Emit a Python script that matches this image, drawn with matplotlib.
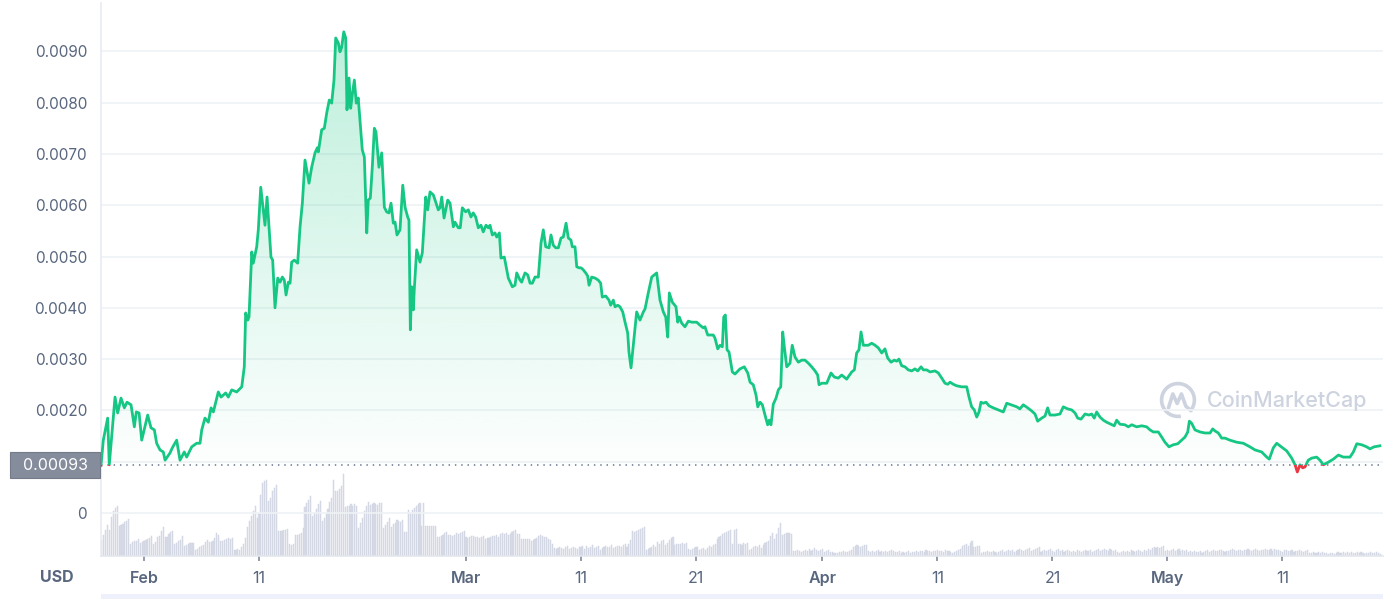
import datetime
import numpy as np
import matplotlib
matplotlib.use("Agg")
import matplotlib.pyplot as plt
import matplotlib.dates as mdates
from matplotlib.patches import Rectangle, Arc
from matplotlib.path import Path

plt.rcParams['font.family'] = ['Inter', 'DejaVu Sans']

# price readings: days after 1 Feb 2022 and price in units of 1e-4 USD
days = [
    -3.74, -3.54, -3.16, -3.02, -2.52, -2.29, -2.00, -1.71, -1.48, -1.13,
    -0.84, -0.67, -0.43, -0.20, 0.32, 0.61, 0.90, 1.10, 1.39, 1.68,
    1.83, 2.26, 2.46, 2.84, 3.13, 3.50, 3.71, 4.15, 4.58, 4.87,
    5.02, 5.30, 5.59, 5.83, 6.03, 6.46, 6.70, 7.10, 7.33, 7.63,
    8.06, 8.50, 8.72, 8.84, 9.02, 9.13, 9.37, 9.50, 9.80, 9.94,
    10.15, 10.52, 10.70, 11.04, 11.19, 11.39, 11.63, 11.83, 12.03, 12.20,
    12.35, 12.55, 12.70, 12.84, 13.07, 13.36, 13.57, 13.77, 14.00, 14.35,
    14.58, 14.87, 15.07, 15.16, 15.45, 15.68, 15.89, 16.11, 16.32, 16.52,
    16.67, 16.90, 17.04, 17.19, 17.37, 17.54, 17.65, 17.83, 17.97, 18.11,
    18.29, 18.46, 18.63, 18.98, 19.16, 19.28, 19.37, 19.50, 19.68, 19.85,
    20.03, 20.17, 20.43, 20.67, 20.90, 21.10, 21.30, 21.48, 21.68, 21.83,
    22.00, 22.26, 22.50, 22.70, 22.93, 23.04, 23.16, 23.28, 23.42, 23.50,
    23.71, 24.00, 24.20, 24.50, 24.67, 24.87, 25.16, 25.37, 25.59, 25.74,
    25.89, 26.09, 26.41, 26.61, 26.90, 27.04, 27.33, 27.50, 27.68, 27.97,
    28.20, 28.43, 28.63, 28.84, 29.07, 29.30, 29.50, 29.74, 29.94, 30.09,
    30.29, 30.52, 30.67, 30.90, 31.04, 31.33, 31.68, 32.03, 32.26, 32.41,
    32.70, 32.84, 33.13, 33.37, 33.57, 33.77, 34.00, 34.29, 34.52, 34.72,
    34.93, 35.22, 35.39, 35.59, 35.80, 36.03, 36.26, 36.46, 36.70, 36.90,
    37.13, 37.24, 37.48, 37.63, 37.83, 38.00, 38.20, 38.41, 38.58, 38.70,
    38.93, 39.22, 39.50, 39.71, 39.85, 40.15, 40.43, 40.58, 40.81, 40.96,
    41.19, 41.39, 41.63, 41.83, 42.06, 42.17, 42.35, 42.55, 42.84, 43.13,
    43.42, 43.57, 43.85, 44.15, 44.58, 44.87, 45.16, 45.37, 45.54, 45.68,
    45.94, 46.26, 46.41, 46.55, 46.76, 47.04, 47.33, 47.63, 48.06, 48.35,
    48.63, 48.78, 49.02, 49.50, 49.65, 49.89, 50.09, 50.29, 50.41, 50.55,
    50.70, 50.87, 51.16, 51.39, 51.57, 51.83, 52.20, 52.50, 52.70, 52.98,
    53.22, 53.37, 53.57, 53.77, 54.00, 54.23, 54.37, 54.52, 54.72, 54.96,
    55.16, 55.37, 55.54, 55.68, 55.89, 56.17, 56.37, 56.61, 56.90, 57.19,
    57.48, 57.77, 58.06, 58.35, 58.58, 58.70, 58.93, 59.37, 59.74, 60.03,
    60.37, 60.67, 61.10, 61.54, 61.77, 61.97, 62.17, 62.35, 62.55, 62.98,
    63.28, 63.57, 63.85, 64.15, 64.43, 64.67, 64.96, 65.24, 65.45, 65.65,
    65.89, 66.17, 66.46, 66.76, 67.04, 67.28, 67.57, 67.77, 68.06, 68.35,
    68.78, 69.07, 69.37, 69.65, 69.89, 70.09, 70.37, 70.67, 71.10, 71.54,
    71.74, 71.97, 72.20, 72.41, 72.61, 72.78, 72.98, 73.22, 73.48, 73.85,
    74.29, 74.72, 75.02, 75.39, 75.89, 76.17, 76.46, 76.84, 77.19, 77.48,
    77.71, 78.06, 78.35, 78.58, 78.78, 79.22, 79.65, 79.94, 80.32, 80.67,
    80.96, 81.19, 81.48, 81.83, 82.17, 82.41, 82.63, 82.84, 83.13, 83.42,
    83.71, 84.09, 84.37, 84.58, 84.87, 85.30, 85.59, 85.89, 86.32, 86.76,
    87.19, 87.48, 87.77, 88.20, 88.50, 88.78, 89.13, 89.50, 89.89, 90.23,
    90.52, 90.76, 90.90, 91.10, 91.39, 91.83, 92.26, 92.70, 92.93, 93.13,
    93.42, 93.71, 94.00, 94.43, 95.02, 95.59, 96.17, 96.61, 97.19, 97.63,
    97.85, 98.20, 98.50, 98.78, 99.37, 99.80, 100.09, 100.29, 100.52, 100.76,
    100.96, 101.24, 101.54, 101.97, 102.26, 102.55, 102.98, 103.42, 103.86, 104.29,
    104.87, 105.16, 105.46, 105.89, 106.32, 106.61, 106.96, 107.47,
]
price_e4 = [
    9.3, 14.2, 18.5, 9.4, 22.6, 19.5, 22.4, 20.5, 21.6, 21.1,
    16.8, 19.7, 19.5, 14.2, 19.1, 16.6, 16.2, 13.6, 12.3, 11.9,
    10.3, 11.7, 12.7, 14.2, 10.3, 11.9, 10.9, 12.9, 13.6, 13.6,
    16.2, 18.5, 17.7, 20.5, 19.7, 23.6, 22.6, 23.4, 22.6, 24.0,
    23.6, 24.6, 28.5, 39.0, 37.6, 38.2, 50.9, 48.7, 51.9, 55.2,
    63.5, 56.1, 61.6, 49.9, 49.3, 40.0, 45.8, 45.0, 46.0, 45.4,
    42.5, 45.0, 44.8, 48.9, 49.3, 48.7, 55.8, 60.4, 68.8, 64.3,
    67.4, 70.2, 71.2, 70.4, 74.7, 75.0, 78.0, 80.5, 79.9, 84.4,
    92.6, 91.6, 89.9, 90.8, 93.8, 92.6, 78.6, 84.8, 78.9, 81.5,
    84.4, 79.9, 80.9, 70.8, 69.4, 61.0, 54.6, 61.0, 61.4, 67.4,
    75.0, 74.3, 67.4, 70.2, 59.6, 58.7, 58.5, 60.4, 56.5, 56.7,
    54.2, 55.2, 63.9, 59.6, 57.7, 57.1, 35.7, 44.1, 39.6, 43.5,
    51.3, 48.9, 50.7, 61.6, 59.1, 62.6, 62.0, 60.6, 59.1, 59.5,
    61.6, 57.5, 61.0, 60.4, 55.8, 56.7, 55.6, 55.6, 59.5, 58.7,
    59.1, 57.7, 58.5, 57.7, 55.6, 56.1, 54.8, 56.1, 55.6, 56.1,
    54.2, 54.6, 53.8, 54.6, 49.7, 49.9, 45.8, 44.1, 44.4, 46.8,
    45.4, 45.0, 46.8, 46.4, 44.8, 44.8, 46.0, 46.0, 52.6, 55.2,
    51.9, 51.7, 54.2, 52.2, 51.7, 51.7, 53.6, 53.8, 56.5, 53.6,
    53.2, 51.9, 51.9, 48.0, 47.8, 47.8, 47.4, 46.8, 46.2, 44.4,
    46.0, 45.8, 45.4, 44.8, 42.1, 42.3, 41.5, 40.5, 41.5, 40.2,
    40.5, 40.2, 39.2, 37.2, 35.1, 31.4, 28.3, 32.7, 39.2, 37.6,
    39.2, 39.8, 42.9, 46.0, 46.8, 41.5, 39.2, 38.2, 34.3, 42.9,
    41.1, 40.2, 37.2, 38.2, 37.0, 36.3, 37.4, 37.2, 37.2, 36.6,
    36.1, 36.3, 34.7, 34.7, 34.1, 32.0, 32.7, 32.4, 38.2, 38.6,
    31.8, 31.4, 27.5, 27.1, 27.5, 28.1, 28.5, 27.3, 25.5, 25.0,
    23.0, 20.7, 21.6, 21.1, 19.1, 17.2, 18.1, 17.2, 21.2, 22.4,
    24.0, 24.6, 35.3, 32.4, 28.5, 29.2, 32.7, 30.4, 29.4, 29.8,
    29.8, 29.2, 28.5, 27.7, 26.9, 25.0, 25.3, 25.3, 27.3, 26.5,
    26.3, 26.9, 26.1, 27.5, 27.9, 31.2, 31.8, 35.3, 32.7, 32.7,
    33.1, 32.7, 32.2, 31.2, 32.0, 30.2, 29.4, 29.8, 29.6, 30.0,
    28.7, 28.5, 27.9, 27.7, 28.1, 27.7, 28.5, 27.9, 27.9, 27.5,
    27.7, 27.3, 26.3, 25.3, 25.1, 25.5, 25.1, 24.8, 24.6, 24.6,
    22.6, 20.7, 20.1, 18.7, 19.7, 21.6, 21.4, 21.6, 20.9, 20.5,
    20.1, 19.7, 21.4, 21.1, 20.7, 20.3, 21.1, 20.5, 19.9, 19.3,
    17.9, 18.5, 18.9, 20.5, 19.1, 19.1, 19.3, 20.7, 20.3, 20.1,
    19.5, 18.5, 18.3, 19.3, 19.1, 19.3, 18.5, 19.7, 18.7, 18.1,
    17.7, 17.3, 17.0, 18.1, 17.3, 17.2, 16.8, 17.2, 16.8, 17.0,
    16.8, 16.2, 15.8, 15.8, 14.8, 13.8, 12.9, 13.3, 13.5, 14.2,
    14.8, 15.8, 17.9, 17.5, 16.2, 15.8, 15.6, 15.6, 16.4, 16.0,
    15.6, 14.6, 14.6, 14.2, 13.8, 13.6, 12.9, 12.3, 11.9, 10.9,
    10.5, 12.7, 13.6, 13.1, 12.1, 10.7, 9.4, 8.0, 9.4, 8.8,
    9.0, 10.3, 10.7, 10.9, 10.3, 9.4, 9.9, 10.5, 11.3, 10.9,
    10.9, 11.9, 13.5, 13.3, 12.9, 12.5, 12.9, 13.1,
]
base_price = 0.00093

# 4-hourly volume (relative units), one row per day from 28 Jan 08:00
vol_start = datetime.datetime(2022, 1, 28, 8)
volume = [
    16, 21, 26, 31, 26, 39,  45, 48, 50, 30, 31, 32,  34, 35, 37, 12, 14, 15,
    15, 17, 13, 14, 15, 16,  17, 18, 20, 12, 14, 19,  20, 25, 29, 19, 19, 22,
    24, 25, 12, 13, 15, 16,  20, 10, 11, 12, 13, 13,  13, 6, 7, 9, 10, 11,
    14, 16, 14, 14, 15, 18,  23, 21, 15, 15, 16, 17,  18, 17, 18, 6, 6, 7,
    6, 9, 12, 18, 29, 35,  40, 45, 50, 38, 42, 61,  73, 75, 76, 55, 58, 65,
    68, 71, 25, 25, 25, 26,  26, 27, 12, 11, 12, 21,  21, 22, 23, 28, 49, 53,
    56, 60, 40, 43, 47, 52,  55, 35, 38, 42, 47, 54,  58, 76, 65, 65, 67, 70,
    82, 49, 50, 50, 52, 50,  52, 50, 28, 33, 38, 45,  50, 54, 51, 52, 53, 52,
    51, 53, 53, 28, 31, 34,  38, 29, 32, 33, 36, 35,  34, 36, 24, 24, 46, 43,
    46, 48, 50, 52, 53, 30,  53, 30, 30, 30, 30, 30,  30, 19, 19, 20, 21, 23,
    24, 21, 21, 20, 21, 23,  22, 23, 24, 25, 19, 18,  19, 20, 20, 19, 19, 18,
    19, 20, 17, 18, 18, 19,  20, 20, 21, 19, 22, 23,  22, 23, 21, 22, 24, 25,
    26, 22, 22, 17, 17, 17,  17, 17, 15, 16, 17, 18,  20, 21, 20, 19, 19, 17,
    16, 12, 8, 7, 8, 9,  8, 7, 9, 10, 7, 8,  9, 8, 7, 9, 9, 10,
    7, 10, 8, 9, 11, 8,  9, 10, 6, 8, 9, 10,  9, 9, 11, 8, 9, 10,
    10, 9, 11, 12, 9, 12,  16, 25, 24, 25, 26, 27,  28, 29, 6, 7, 8, 9,
    11, 9, 14, 12, 15, 16,  11, 13, 16, 18, 19, 11,  12, 12, 12, 13, 12, 13,
    7, 6, 7, 8, 9, 9,  6, 7, 8, 6, 8, 10,  9, 11, 12, 17, 19, 20,
    22, 23, 24, 25, 26, 12,  26, 27, 12, 12, 11, 13,  12, 13, 6, 7, 9, 10,
    9, 11, 8, 11, 13, 14,  15, 20, 23, 17, 22, 28,  33, 21, 22, 23, 23, 23,
    22, 5, 5, 6, 5, 4,  5, 6, 5, 7, 5, 6,  8, 6, 5, 6, 7, 4,
    5, 6, 4, 4, 3, 3,  3, 4, 4, 5, 4, 4,  5, 6, 9, 10, 11, 10,
    9, 10, 11, 11, 5, 4,  5, 4, 5, 6, 4, 5,  4, 5, 4, 5, 6, 5,
    4, 4, 5, 3, 4, 3,  4, 5, 3, 4, 4, 5,  4, 5, 5, 4, 6, 5,
    5, 4, 5, 5, 6, 5,  5, 4, 6, 5, 5, 4,  3, 4, 5, 6, 7, 10,
    11, 12, 10, 13, 15, 9,  9, 10, 10, 3, 4, 4,  5, 4, 4, 5, 4, 3,
    4, 5, 6, 4, 5, 6,  5, 6, 4, 5, 6, 7,  6, 5, 6, 7, 8, 5,
    6, 7, 8, 9, 4, 5,  6, 5, 6, 7, 5, 4,  6, 7, 5, 6, 4, 5,
    6, 5, 4, 5, 4, 6,  5, 4, 5, 6, 5, 5,  6, 4, 5, 6, 7, 5,
    6, 7, 6, 5, 7, 6,  5, 6, 4, 3, 4, 5,  4, 5, 4, 6, 5, 4,
    5, 6, 5, 4, 6, 5,  7, 6, 8, 9, 8, 9,  8, 9, 10, 5, 6, 5,
    6, 7, 5, 6, 7, 5,  6, 5, 6, 4, 5, 4,  5, 4, 4, 5, 3, 4,
    5, 6, 4, 5, 6, 5,  5, 6, 6, 5, 4, 5,  5, 6, 7, 6, 5, 6,
    6, 5, 6, 6, 7, 6,  5, 6, 7, 6, 5, 6,  6, 7, 6, 6, 7, 5,
    7, 6, 6, 5, 4, 6,  6, 5, 5, 6, 4, 5,  5, 6, 5, 4, 5, 6,
    3, 3, 4, 3, 3, 4,  3, 4, 3, 3, 2, 3,  3, 2, 3, 4, 3, 3,
    4, 3, 4, 3, 4, 3,  3, 4, 3, 4, 3, 2,  3, 3, 4, 3, 3, 4,
    3, 2,
]

tick_md = [(2, 1), (2, 11), (3, 1), (3, 11), (3, 21), (4, 1), (4, 11), (4, 21), (5, 1), (5, 11)]
tick_labels = ["Feb", "11", "Mar", "11", "21", "Apr", "11", "21", "May", "11"]
y_ticks = [0, 0.001, 0.002, 0.003, 0.004, 0.005, 0.006, 0.007, 0.008, 0.009]

GREEN = "#16c784"
RED = "#ea3943"
TXT = "#58667e"
GRID = "#eff2f5"

t0 = datetime.datetime(2022, 2, 1)
xnum = mdates.date2num([t0 + datetime.timedelta(days=d) for d in days])
price = np.array(price_e4) * 1e-4
vnum = mdates.date2num([vol_start + datetime.timedelta(hours=4 * i) for i in range(len(volume))])

x_left = mdates.date2num(t0 - datetime.timedelta(days=3.74))
x_right = mdates.date2num(t0 + datetime.timedelta(days=107.74))
y_bot, y_top = -0.000838, 0.009942

fig = plt.figure(figsize=(14, 5.99), dpi=100)
ax = fig.add_axes([101 / 1400, 43 / 599, 1282 / 1400, 553 / 599])

# volume on a twin axis, behind the price
vax = ax.twinx()
vax.bar(vnum, volume, width=0.1, color="#d9dce8", edgecolor="#cdd1df", linewidth=0.3, zorder=1)
vax.set_ylim(0, 6.75 * max(volume))
vax.set_yticks([])
for s in vax.spines.values():
    s.set_visible(False)

# gradient fill between line and the start price
fb = ax.fill_between(xnum, price, base_price, where=price >= base_price, interpolate=True,
                     facecolor="none", edgecolor="none")
grad = np.linspace(0, 1, 256).reshape(-1, 1)
rgba = np.zeros((256, 1, 4))
rgba[..., 0], rgba[..., 1], rgba[..., 2] = 22 / 255, 199 / 255, 132 / 255
rgba[..., 3] = 0.01 + 0.27 * grad
im = ax.imshow(rgba, extent=[xnum[0], xnum[-1], base_price, price.max()], origin="lower",
               aspect="auto", zorder=2, interpolation="bilinear")
im.set_clip_path(Path.make_compound_path(*fb.get_paths()), transform=ax.transData)

# line: green above start price, red below
lg, = ax.plot(xnum, price, color=GREEN, lw=2.0, zorder=4, solid_joinstyle="round")
lg.set_clip_path(Rectangle((x_left, base_price), x_right - x_left, 1, transform=ax.transData))
lr, = ax.plot(xnum, price, color=RED, lw=2.0, zorder=4, solid_joinstyle="round")
lr.set_clip_path(Rectangle((x_left, -1), x_right - x_left, 1 + base_price, transform=ax.transData))

ax.axhline(base_price, color="#808a9d", lw=1.3, ls=(0, (0.8, 2.7)), zorder=3)

ax.set_xlim(x_left, x_right)
ax.set_ylim(y_bot, y_top)
ax.set_zorder(vax.get_zorder() + 1)
ax.patch.set_visible(False)

ax.set_yticks(y_ticks)
ax.set_yticklabels(["0" if v == 0 else ("" if abs(v - 0.001) < 1e-9 else f"{v:.4f}") for v in y_ticks])
ax.grid(axis="y", color=GRID, lw=1.2, zorder=0)
ax.set_axisbelow(True)

ax.set_xticks(mdates.date2num([datetime.datetime(2022, m, d) for m, d in tick_md]))
ax.set_xticklabels(tick_labels)
for lab in ax.get_xticklabels():
    if lab.get_text().isalpha():
        lab.set_fontweight("semibold")

ax.tick_params(axis="y", length=0, pad=10, labelsize=11, labelcolor=TXT)
ax.tick_params(axis="x", length=3.5, width=1.2, color="#808a9d", pad=7, labelsize=11.5, labelcolor=TXT)
for side in ["top", "right"]:
    ax.spines[side].set_visible(False)
ax.spines["left"].set_color("#e8ebf0")
ax.spines["bottom"].set_color("#e3e6ec")
ax.spines["left"].set_linewidth(1.2)
ax.spines["bottom"].set_linewidth(1.2)

# current price box
fig.patches.append(Rectangle((10 / 1400, 121 / 599), 90 / 1400, 26 / 599, transform=fig.transFigure,
                             facecolor="#858c9c", edgecolor="#737a8a", lw=0.8))
fig.text(88 / 1400, (599 - 465) / 599, "0.00093", color="white", fontsize=11.5, ha="right", va="center")

fig.text(57 / 1400, (599 - 577) / 599, "USD", color=TXT, fontsize=11.5, fontweight="bold",
         ha="center", va="center")

# navigator strip at the bottom
fig.patches.append(Rectangle((101 / 1400, 0), 1282 / 1400, 5 / 599, transform=fig.transFigure,
                             facecolor="#eef1fb", edgecolor="none"))

# watermark
fig.text(1207 / 1400, (599 - 401) / 599, "CoinMarketCap", color="#cdd3df", fontsize=15.5,
         fontweight="medium", ha="left", va="center")
lax = fig.add_axes([1159 / 1400, (599 - 419) / 599, 38 / 1400, 38 / 599])
lax.set_xlim(-1.1, 1.1)
lax.set_ylim(-1.1, 1.1)
lax.axis("off")
lax.add_patch(Arc((0, 0), 1.9, 1.9, theta1=-40, theta2=280, color="#cdd3df", lw=2.6))
lax.plot([-0.55, -0.3, -0.05, 0.2, 0.45, 0.75], [-0.45, 0.35, -0.2, 0.35, -0.35, -0.62],
         color="#cdd3df", lw=2.6, solid_capstyle="round", solid_joinstyle="round")

fig.savefig("out.png", dpi=100)
